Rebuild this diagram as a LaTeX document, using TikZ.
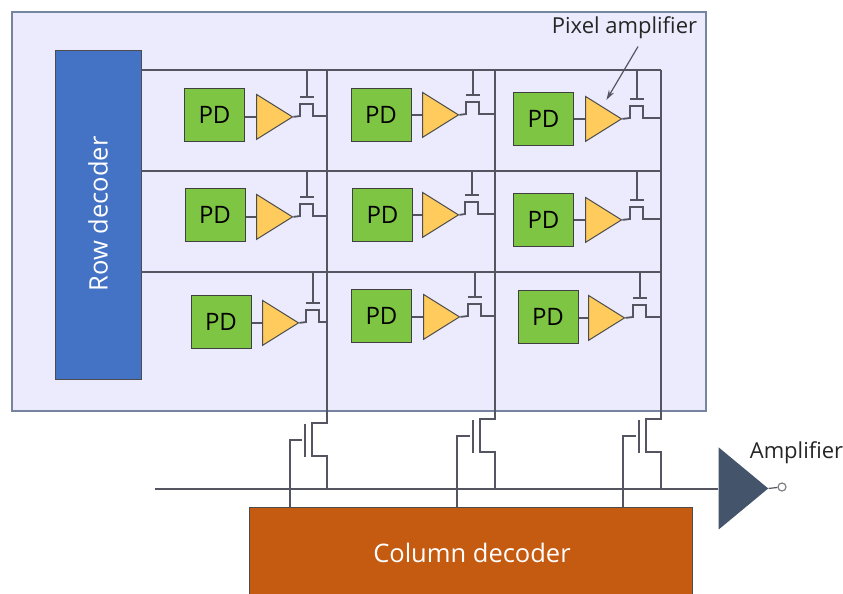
\documentclass[tikz,border=0pt]{standalone}
\usepackage{fontspec}
\setmainfont{Open Sans}
\usetikzlibrary{shapes.geometric,arrows.meta,positioning,calc}
\definecolor{framefill}{HTML}{ECEBFD}
\definecolor{framedraw}{HTML}{75859F}
\definecolor{rowblue}{HTML}{4472C4}
\definecolor{colorange}{HTML}{C55A11}
\definecolor{pdgreen}{HTML}{7EC544}
\definecolor{ampyellow}{HTML}{FFCB5C}
\definecolor{ampdark}{HTML}{44546A}
\definecolor{wire}{HTML}{555562}
\tikzset{
    wireline/.style={draw=wire, line width=1.8pt},
    pdbox/.style={draw=black!75, fill=pdgreen, line width=1pt, minimum width=60pt, minimum height=53pt, inner sep=0pt, font=\fontsize{24}{24}\selectfont},
    pixamp/.style={isosceles triangle, isosceles triangle apex angle=64, draw=black!70, fill=ampyellow, line width=1pt, minimum height=36pt, inner sep=0pt, shape border rotate=0},
    decoder/.style={draw=black!70, inner sep=0pt, text=white, font=\fontsize{25}{25}\selectfont}
}
\begin{document}
\begin{tikzpicture}[x=1pt, y=-1pt]
    \useasboundingbox (0,0) rectangle (843,594);
    \node [draw=framedraw, fill=framefill, line width=1.5pt, minimum width=694pt, minimum height=399pt, inner sep=0pt] (frame) at (359,211.5) {};
    \node [decoder, fill=rowblue, minimum width=86pt, minimum height=329pt] (rowdec) at (98,214.5) {};
    \node [rotate=90, text=white, font=\fontsize{25.5}{25.5}\selectfont] (rowlabel) at (98,214) {Row decoder};
    \node [decoder, fill=colorange, minimum width=443pt, minimum height=88pt] (coldec) at (470.5,551) {};
    \node [text=white, font=\fontsize{25.5}{25.5}\selectfont] (collabel) at (472,553) {Column decoder};

    % row lines
    \foreach \rowy/\rowname in {70/rowa, 171/rowb, 272/rowc} {
        \coordinate (\rowname) at (661,\rowy);
        \draw [wireline] (rowdec.east |- \rowname) -- (\rowname);
    }

    % pixels: PD centre, amplifier base, amplifier height, gate, row, column
    \foreach \pdx/\pdy/\ampx/\ampy/\gatex/\rowy/\colx/\cellname in {
        214.5/114.5/256/116/307/70/327/aa, 381/114.5/422/114/473/70/495/ab, 543.5/119/585/118/637/70/661/ac,
        215/215/256/216/307/171/327/ba, 382.5/215/422/214/472/171/495/bb, 543.5/220/585/219/637/171/661/bc,
        221/322/262/322/313/272/327/ca, 381.5/316/423/316/475/272/495/cb, 548/317/588/317/640/272/661/cc} {
        \node [pdbox] (pd\cellname) at (\pdx,\pdy) {PD};
        \node [pixamp, anchor=left corner] (amp\cellname) at (\ampx,\ampy-22.5) {};
        \draw [wireline, line width=1.3pt] (pd\cellname.east |- amp\cellname.apex) -- (amp\cellname.apex -| amp\cellname.west);
        \coordinate (gate\cellname) at (\gatex,\ampy-19);
        \draw [wireline] (\gatex,\rowy) -- (gate\cellname);
        \draw [wireline] ([xshift=-7pt]gate\cellname) -- ([xshift=7pt]gate\cellname);
        \draw [wireline] (amp\cellname.apex) -- (\gatex-7,\ampy) -- (\gatex-7,\ampy-12) -- (\gatex+6,\ampy-12) -- (\gatex+6,\ampy) -- (\colx,\ampy);
    }

    % column switches
    \draw [wireline] (155,489) coordinate (busin) -- (718,489) coordinate (busout);
    \foreach \colx/\gatex/\drainy/\colname in {327/290/423/swa, 495/457/419/swb, 661/623/419/swc} {
        \coordinate (top\colname) at (\colx,70);
        \coordinate (gate\colname) at (\gatex,507);
        \draw [wireline] (top\colname) -- (\colx,\drainy) -- (\colx-15,\drainy) -- (\colx-15,\drainy+33) -- (\colx,\drainy+33) -- (\colx,489);
        \draw [wireline] (\colx-22,\drainy+1) -- (\colx-22,\drainy+34);
        \draw [wireline] (gate\colname) -- (\gatex,\drainy+17) -- (\colx-25,\drainy+17);
    }

    % output amplifier
    \node [isosceles triangle, isosceles triangle apex angle=79.3, fill=ampdark, minimum height=49.5pt, inner sep=0pt, anchor=left corner] (outamp) at (718.5,447) {};
    \node [circle, draw=black!50, fill=white, line width=1.2pt, minimum size=8pt, inner sep=0pt] (outbubble) at (782,487) {};
    \draw [wireline, line width=1.2pt] (outamp.apex) -- (outbubble);
    \node [font=\fontsize{22}{22}\selectfont, text=black!85] (amplabel) at (796.5,453) {Amplifier};
    \node [font=\fontsize{22}{22}\selectfont, text=black!85] (pixlabel) at (624.5,28) {Pixel amplifier};
    \coordinate (arrowstart) at ($(pixlabel.south)+(13.5,4)$);
    \coordinate (arrowend) at ($(ampac.apex)+(-16,-19)$);
    \draw [-{Stealth[length=10pt,width=6pt]}, line width=1.2pt, draw=wire] (arrowstart) -- (arrowend);
\end{tikzpicture}
\end{document}
